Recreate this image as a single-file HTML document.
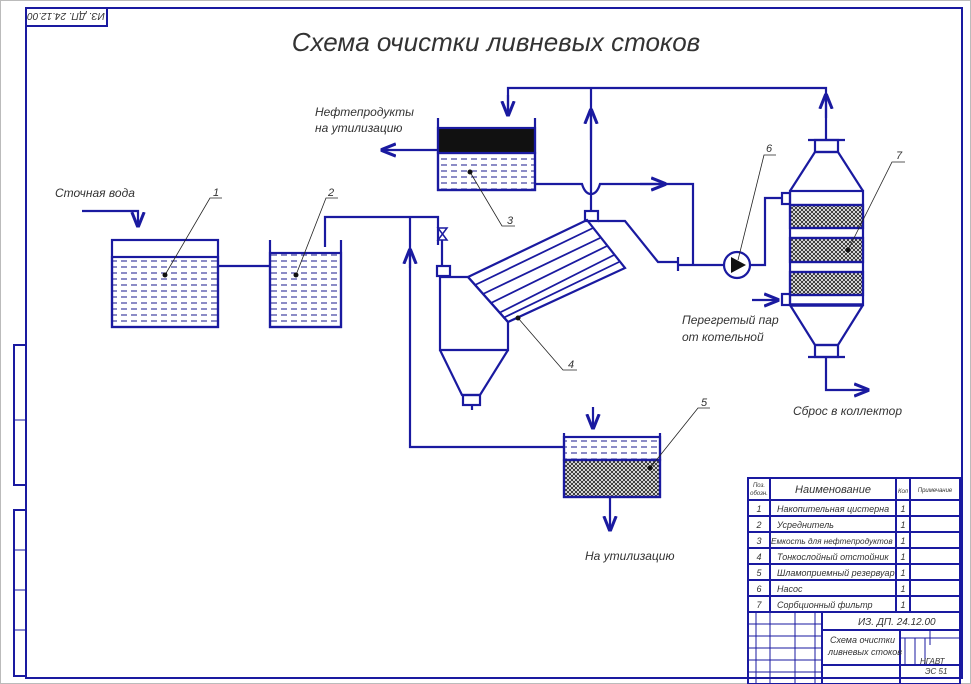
<!DOCTYPE html>
<html><head><meta charset="utf-8"><style>
html,body{margin:0;padding:0;background:#fff}
svg{display:block}
text{font-family:"Liberation Sans",sans-serif;font-style:italic;fill:#333}
</style></head><body>
<svg width="971" height="684" viewBox="0 0 971 684" xmlns="http://www.w3.org/2000/svg">
<defs>
<pattern id="dash" width="10" height="6" patternUnits="userSpaceOnUse"><line x1="1" y1="3" x2="7" y2="3" stroke="#1a1a8c" stroke-width="1"/></pattern>
<pattern id="hatch" width="4" height="4" patternUnits="userSpaceOnUse"><rect width="4" height="4" fill="#fff"/><path d="M0,0L4,4M4,0L0,4" stroke="#222" stroke-width="0.9"/></pattern>
<marker id="ar" viewBox="0 0 10 10" refX="9" refY="5" markerWidth="7" markerHeight="7" orient="auto"><path d="M0,1L10,5L0,9" fill="none" stroke="#1a1aa0" stroke-width="2"/></marker>
</defs>
<rect x="0.5" y="0.5" width="970" height="683" fill="none" stroke="#bbb"/>
<g stroke="#1a1aa0" fill="none" stroke-width="2">
<rect x="26" y="8" width="936" height="670"/>
<rect x="26" y="8" width="81" height="18"/>
<rect x="14" y="345" width="12" height="140"/>
<rect x="14" y="510" width="12" height="166"/>
<line x1="14" y1="420" x2="26" y2="420" stroke-width="1"/><line x1="14" y1="590" x2="26" y2="590" stroke-width="1"/><line x1="14" y1="550" x2="26" y2="550" stroke-width="1"/><line x1="14" y1="630" x2="26" y2="630" stroke-width="1"/>
</g>
<text x="66" y="21" font-size="10" text-anchor="middle" transform="rotate(180 66 17)">ИЗ. ДП. 24.12.00</text>
<text x="496" y="51" font-size="26" text-anchor="middle">Схема очистки ливневых стоков</text>

<g stroke="#1a1aa0" fill="none" stroke-width="2.2">
<rect x="112" y="257" width="106" height="70" fill="url(#dash)"/>
<rect x="112" y="240" width="106" height="87"/>
<rect x="270" y="253" width="71" height="74" fill="url(#dash)"/>
<path d="M270,240V327H341V240"/>
<line x1="218" y1="266" x2="270" y2="266"/>
<path d="M325,247V217H438V245"/>
<path d="M410,217V447H564"/>
<line x1="410" y1="268" x2="410" y2="250" marker-end="url(#ar)"/>
<path d="M82,211H138V226" marker-end="url(#ar)"/>
<path d="M438,228L447,228L438,240L447,240Z" stroke-width="1.5"/>
<path d="M442,240V265" />
<rect x="437" y="266" width="13" height="10"/>
<path d="M440,277H468L508,322V350H440Z"/>
<path d="M440,350L462,395H480L508,350"/>
<rect x="463" y="395" width="17" height="10"/>
<path d="M472,405V410"/>
<line x1="593" y1="407" x2="593" y2="428" marker-end="url(#ar)"/>
<path d="M468,277L587,220L625,268L508,322Z"/>
<path d="M475,285L593,228M483,294L600,238M491,303L607,246M499,313L614,255M503,318L619,262" stroke-width="1.8"/>
<rect x="585" y="211" width="13" height="10"/>
<path d="M591,211V88"/>
<line x1="591" y1="140" x2="591" y2="110" marker-end="url(#ar)"/>
<path d="M598,221H625L658,262H678"/>
<line x1="678" y1="257" x2="678" y2="271"/>
<path d="M678,265H724"/>
<path d="M508,112V88H826V140"/>
<line x1="508" y1="95" x2="508" y2="115" marker-end="url(#ar)"/>
<line x1="826" y1="118" x2="826" y2="95" marker-end="url(#ar)"/>
<rect x="438" y="153" width="97" height="37" fill="url(#dash)"/>
<rect x="438" y="128" width="97" height="25" fill="#111"/>
<path d="M438,118V190H535V118"/>
<path d="M438,150H382" marker-end="url(#ar)"/>
<path d="M535,184H582Q585,194 591,194Q597,194 600,184H693V265"/>
<line x1="640" y1="184" x2="665" y2="184" marker-end="url(#ar)"/>
<circle cx="737" cy="265" r="13"/>
<path d="M750,265H765V198H782"/>
<rect x="782" y="193" width="8" height="11"/>
<rect x="782" y="294" width="8" height="11"/>
<line x1="752" y1="300" x2="778" y2="300" marker-end="url(#ar)"/>
<rect x="790" y="205" width="73" height="23" fill="url(#hatch)"/>
<rect x="790" y="238" width="73" height="24" fill="url(#hatch)"/>
<rect x="790" y="272" width="73" height="23" fill="url(#hatch)"/>
<rect x="790" y="191" width="73" height="114"/>
<path d="M790,205H863M790,228H863M790,238H863M790,262H863M790,272H863M790,295H863"/>
<line x1="790" y1="305" x2="863" y2="305" stroke-width="3.5"/>
<path d="M790,191L815,152H838L863,191"/>
<path d="M790,305L815,345H838L863,305"/>
<rect x="815" y="140" width="23" height="12"/>
<rect x="815" y="345" width="23" height="12"/>
<path d="M808,140H845M808,357H845"/>
<path d="M826,357V390H868" marker-end="url(#ar)"/>
<rect x="564" y="437" width="96" height="23" fill="url(#dash)"/>
<rect x="564" y="460" width="96" height="37" fill="url(#hatch)"/>
<path d="M564,433V497H660V433"/>
<line x1="564" y1="460" x2="660" y2="460"/>
<line x1="610" y1="497" x2="610" y2="530" marker-end="url(#ar)"/>
</g>
<path d="M731,257L746,265L731,273Z" fill="#111"/>
<g stroke="#222" stroke-width="0.8" fill="none">
<path d="M165,275L210,198H222"/><path d="M296,275L326,198H338"/>
<path d="M470,172L502,226H515"/><path d="M518,318L563,370H577"/>
<path d="M738,260L764,155H776"/><path d="M848,250L892,162H905"/>
<path d="M650,468L698,408H710"/>
</g>
<g fill="#111"><circle cx="165" cy="275" r="2.5"/><circle cx="296" cy="275" r="2.5"/><circle cx="470" cy="172" r="2.5"/><circle cx="518" cy="318" r="2.5"/><circle cx="848" cy="250" r="2.5"/><circle cx="650" cy="468" r="2.5"/></g>
<g font-size="11">
<text x="213" y="196">1</text><text x="328" y="196">2</text><text x="507" y="224">3</text><text x="568" y="368">4</text>
<text x="766" y="152">6</text><text x="896" y="159">7</text><text x="701" y="406">5</text>
</g>
<g font-size="12">
<text x="55" y="197">Сточная вода</text>
<text x="315" y="116">Нефтепродукты</text><text x="315" y="132">на утилизацию</text>
<text x="682" y="324">Перегретый пар</text><text x="682" y="341">от котельной</text>
<text x="793" y="415">Сброс в коллектор</text>
<text x="585" y="560">На утилизацию</text>
</g>
<g stroke="#1a1aa0" fill="none" stroke-width="2">
<rect x="748" y="478" width="212" height="206"/>
<path d="M748,500H960M748,516H960M748,532H960M748,548H960M748,564H960M748,580H960M748,596H960M748,612H960M822,630H960M822,665H960"/>
<path d="M770,478V612M896,478V612M910,478V612M822,612V684M900,630V684"/>
<path d="M748,624H822M748,636H822M748,648H822M748,660H822M748,672H822M756,612V684M770,612V684M795,612V684M815,612V684" stroke-width="1"/>
<path d="M905,638V665M915,638V665M925,638V665M900,638H960M930,630V645" stroke-width="1"/>
</g>
<g font-size="9" text-anchor="middle">
<text x="759" y="487" font-size="6">Поз.</text><text x="759" y="495" font-size="6">обозн.</text>
<text x="833" y="493" font-size="11">Наименование</text><text x="903" y="493" font-size="6">Кол</text><text x="935" y="492" font-size="6">Примечание</text>
<text x="759" y="512">1</text><text x="759" y="528">2</text><text x="759" y="544">3</text><text x="759" y="560">4</text><text x="759" y="576">5</text><text x="759" y="592">6</text><text x="759" y="608">7</text>
<text x="903" y="512">1</text><text x="903" y="528">1</text><text x="903" y="544">1</text><text x="903" y="560">1</text><text x="903" y="576">1</text><text x="903" y="592">1</text><text x="903" y="608">1</text>
</g>
<g font-size="9">
<text x="777" y="512">Накопительная цистерна</text><text x="777" y="528">Усреднитель</text><text x="771" y="544" font-size="8.2">Емкость для нефтепродуктов</text>
<text x="777" y="560">Тонкослойный отстойник</text><text x="777" y="576">Шламоприемный резервуар</text><text x="777" y="592">Насос</text><text x="777" y="608">Сорбционный фильтр</text>
<text x="858" y="625" font-size="10">ИЗ. ДП. 24.12.00</text>
<text x="830" y="643">Схема очистки</text><text x="828" y="655">ливневых стоков</text>
<text x="920" y="664" font-size="8">НГАВТ</text><text x="925" y="674" font-size="8">ЭС 51</text>
</g>
</svg>
</body></html>
